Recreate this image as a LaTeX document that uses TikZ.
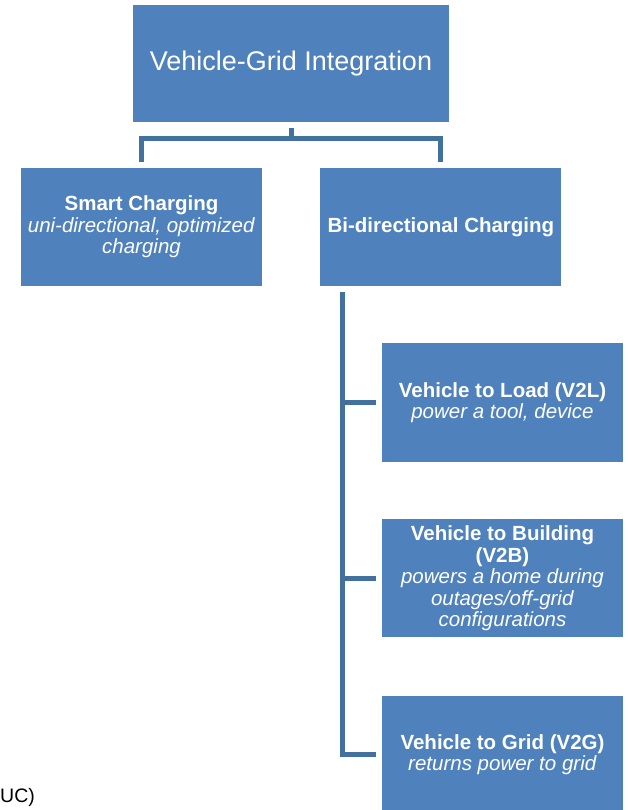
\documentclass[tikz,border=0pt]{standalone}
\usepackage{fontspec}
\setmainfont{Liberation Sans}
\usetikzlibrary{positioning}
\definecolor{vgiblue}{HTML}{4F81BD}
\definecolor{vgiline}{HTML}{41719C}

\begin{document}
\begin{tikzpicture}[x=1pt,y=-1pt,
  box/.style={fill=vgiblue,text=white,minimum width=241pt,minimum height=118pt,
    inner sep=0pt,align=center,font=\fontsize{20.5}{21.5}\selectfont},
  conn/.style={draw=vgiline,line width=5pt}]
\useasboundingbox (0,0) rectangle (627,810);
\node[box,minimum width=316pt,minimum height=117pt,font=\fontsize{27}{30}\selectfont] (vgi) at (291,63.5) {Vehicle-Grid Integration};
\node[box] (smart) at (141.5,227) {\textbf{Smart Charging}\\\textit{uni-directional, optimized}\\\textit{charging}};
\node[box,right=58pt of smart] (bidir) {\textbf{Bi-directional Charging}};
\node[box,minimum height=119pt] (vtl) at (502.5,402.5) {\textbf{Vehicle to Load (V2L)}\\\textit{power a tool, device}};
\node[box,below=57pt of vtl] (vtb) {\textbf{Vehicle to Building}\\\textbf{(V2B)}\\\textit{powers a home during}\\\textit{outages/off-grid}\\\textit{configurations}};
\node[box,below=58pt of vtb] (vtg) {\textbf{Vehicle to Grid (V2G)}\\\textit{returns power to grid}};
\node[anchor=west,inner sep=0pt,font=\fontsize{19.5}{21.5}\selectfont] (uc) at (0,797) {UC)};
% top split
\draw[conn] ([yshift=-6pt]vgi.south) -- ++(0,10) coordinate (bar);
\draw[conn] ([yshift=6pt]smart.north) |- (bar) -| ([yshift=6pt]bidir.north);
% spine
\coordinate (sp) at (342,292);
\draw[conn] (sp) |- ([xshift=-6pt]vtg.west);
\draw[conn] (sp |- vtl.west) -- ([xshift=-6pt]vtl.west);
\draw[conn] (sp |- vtb.west) -- ([xshift=-6pt]vtb.west);
\end{tikzpicture}
\end{document}
